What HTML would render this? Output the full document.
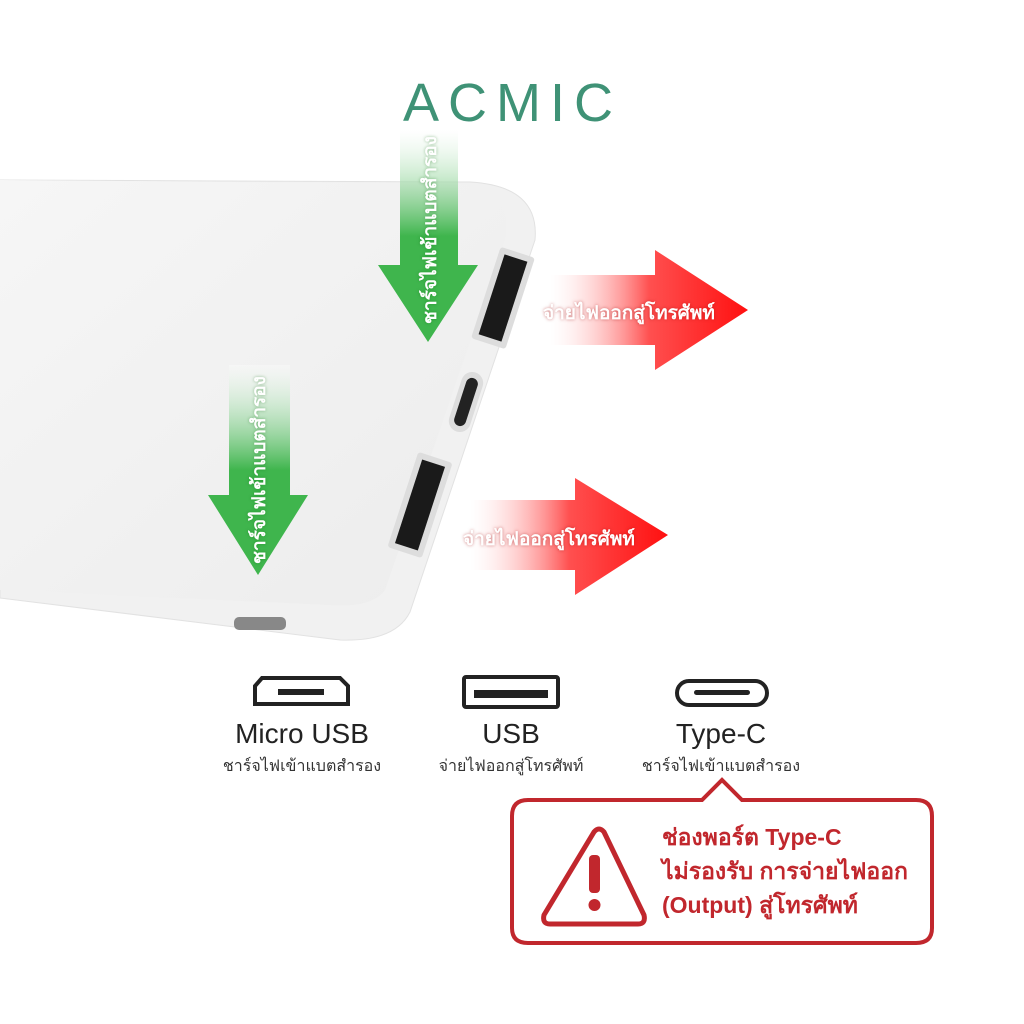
<!DOCTYPE html>
<html><head><meta charset="utf-8"><style>
body{margin:0;width:1024px;height:1024px;background:#fff;overflow:hidden;position:relative;font-family:"Liberation Sans","DejaVu Sans",sans-serif}
.t{position:absolute;white-space:nowrap}
.rt{color:#fff;font-weight:bold;font-size:19px;text-shadow:0 0 3px rgba(160,0,0,0.5)}
.gt{color:#fff;font-weight:bold;font-size:19px;text-shadow:0 0 3px rgba(0,100,0,0.4)}
</style></head><body>
<svg width="1024" height="1024" style="position:absolute;left:0;top:0">
<defs>
<linearGradient id="g" x1="0" y1="0" x2="0" y2="1"><stop offset="0" stop-color="#fff" stop-opacity="0.3"/><stop offset="0.5" stop-color="#3fb54d"/><stop offset="1" stop-color="#3fb54d"/></linearGradient>
<linearGradient id="r" x1="0" y1="0" x2="1" y2="0"><stop offset="0" stop-color="#fff" stop-opacity="0.2"/><stop offset="0.5" stop-color="#ff5050"/><stop offset="1" stop-color="#ff1010"/></linearGradient>
<linearGradient id="b" x1="0" y1="0" x2="1" y2="1"><stop offset="0" stop-color="#f6f6f6"/><stop offset="1" stop-color="#ececec"/></linearGradient>
</defs>
<path d="M0,180 L470,182 Q540,186 535,240 L410,612 Q395,642 340,640 L0,598 Z" fill="#f1f1f1" stroke="#e2e2e2"/>
<path d="M0,180 L460,184 Q515,190 505,240 L385,590 Q372,608 330,605 L0,590 Z" fill="url(#b)"/>
<g transform="translate(503,298) rotate(18)"><rect x="-18" y="-48" width="36" height="96" rx="3" fill="#ddd"/><rect x="-12" y="-42" width="24" height="84" fill="#1a1a1a"/></g>
<g transform="translate(466,402) rotate(18)"><rect x="-11" y="-31" width="22" height="62" rx="11" fill="#ddd"/><rect x="-6" y="-25" width="12" height="50" rx="6" fill="#222"/></g>
<g transform="translate(420,505) rotate(18)"><rect x="-18" y="-50" width="36" height="100" rx="3" fill="#ddd"/><rect x="-12" y="-44" width="24" height="88" fill="#1a1a1a"/></g>
<rect x="234" y="617" width="52" height="13" rx="5" fill="#888"/>
<path d="M400,130 H458 V265 H478 L428,342 L378,265 H400 Z" fill="url(#g)"/>
<path d="M229,365 H290 V495 H308 L258,575 L208,495 H229 Z" fill="url(#g)"/>
<path d="M550,275 H655 V250 L748,310 L655,370 V345 H550 Z" fill="url(#r)"/>
<path d="M470,500 H575 V478 L668,535 L575,595 V570 H470 Z" fill="url(#r)"/>
<path d="M262,678 H340 L348,686 V704 H255 V686 Z" fill="none" stroke="#222" stroke-width="4"/>
<rect x="278" y="689" width="46" height="6" fill="#222"/>
<rect x="464" y="677" width="94" height="30" rx="2" fill="none" stroke="#222" stroke-width="4"/>
<rect x="474" y="690" width="74" height="8" fill="#222"/>
<rect x="677" y="681" width="90" height="24" rx="12" fill="none" stroke="#222" stroke-width="4"/>
<rect x="694" y="690" width="56" height="5" rx="2.5" fill="#222"/>
<path d="M528,800 H702 L722,780 L742,800 H916 Q932,800 932,816 V928 Q932,943 916,943 H528 Q512,943 512,928 V816 Q512,800 528,800 Z" fill="#fff" stroke="#c1272d" stroke-width="4"/>
<path d="M594,832 Q599,826 604,832 L644,915 Q646,924 638,924 H550 Q542,924 544,915 Z" fill="none" stroke="#c1272d" stroke-width="5" stroke-linejoin="round"/>
<rect x="589" y="855" width="11" height="38" rx="4" fill="#c1272d"/>
<circle cx="594.5" cy="905" r="6" fill="#c1272d"/>
</svg>
<div class="t" style="left:403px;top:72px;font-size:54px;color:#3f9276;letter-spacing:9px">ACMIC</div>
<div class="t gt" style="left:430px;top:230px;transform:translate(-50%,-50%) rotate(-90deg)">ชาร์จไฟเข้าแบตสำรอง</div>
<div class="t gt" style="left:259px;top:470px;transform:translate(-50%,-50%) rotate(-90deg)">ชาร์จไฟเข้าแบตสำรอง</div>
<div class="t rt" style="left:543px;top:298px">จ่ายไฟออกสู่โทรศัพท์</div>
<div class="t rt" style="left:463px;top:524px">จ่ายไฟออกสู่โทรศัพท์</div>
<div class="t" style="left:302px;top:718px;transform:translateX(-50%);font-size:28px;color:#222">Micro USB</div>
<div class="t" style="left:302px;top:754px;transform:translateX(-50%);font-size:16px;color:#333">ชาร์จไฟเข้าแบตสำรอง</div>
<div class="t" style="left:511px;top:718px;transform:translateX(-50%);font-size:28px;color:#222">USB</div>
<div class="t" style="left:511px;top:754px;transform:translateX(-50%);font-size:16px;color:#333">จ่ายไฟออกสู่โทรศัพท์</div>
<div class="t" style="left:721px;top:718px;transform:translateX(-50%);font-size:28px;color:#222">Type-C</div>
<div class="t" style="left:721px;top:754px;transform:translateX(-50%);font-size:16px;color:#333">ชาร์จไฟเข้าแบตสำรอง</div>
<div class="t" style="left:662px;top:820px;font-size:23px;color:#c1272d;font-weight:bold;line-height:34px">ช่องพอร์ต Type-C<br>ไม่รองรับ การจ่ายไฟออก<br>(Output) สู่โทรศัพท์</div>
</body></html>
